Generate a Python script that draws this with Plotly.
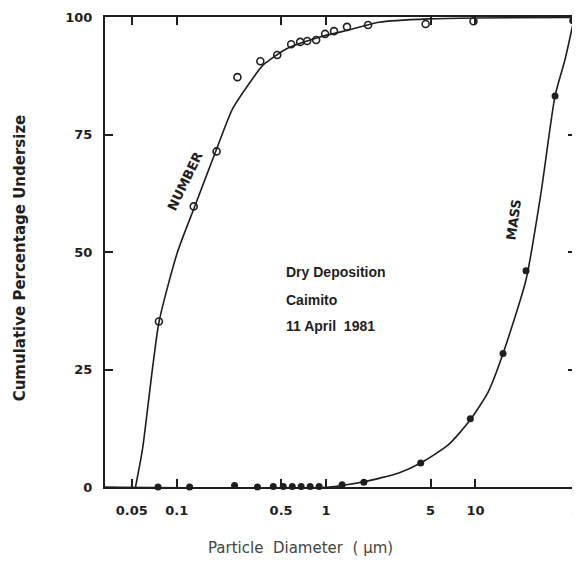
import math
import plotly.graph_objects as go

# ---- data ----
# NUMBER distribution (open circles)
number_d = [0.076, 0.130, 0.185, 0.255, 0.363, 0.471, 0.584, 0.671, 0.747, 0.858,
            0.985, 1.13, 1.38, 1.91, 4.64, 9.7]
number_pct = [35.2, 59.7, 71.4, 87.2, 90.6, 91.9, 94.2, 94.7, 94.9, 95.1,
              96.4, 97.0, 97.9, 98.3, 98.5, 99.1]
# fitted NUMBER curve
number_curve_d = [0.053, 0.059, 0.076, 0.101, 0.132, 0.185, 0.236, 0.321, 0.374,
                  0.541, 0.898, 1.49, 2.26, 4.86, 10.5, 48.0]
number_curve_pct = [0.0, 8.0, 35.0, 49.9, 59.7, 71.9, 80.4, 86.8, 89.6,
                    93.2, 95.7, 97.4, 98.9, 99.6, 99.8, 99.9]

# MASS distribution (filled circles)
mass_d = [0.075, 0.122, 0.244, 0.347, 0.443, 0.517, 0.594, 0.681, 0.782, 0.898,
          1.28, 1.79, 4.30, 9.24, 15.3, 21.8, 34.1, 44.8]
mass_pct = [0, 0, 0.3, 0, 0.1, 0.1, 0.1, 0.1, 0.1, 0.1,
            0.5, 1.0, 5.1, 14.5, 28.4, 46.0, 83.2, 99.2]
# fitted MASS curve
mass_curve_d = [0.033, 1.05, 1.79, 3.07, 4.30, 6.60, 9.24, 12.2, 15.3, 21.8,
                27.5, 34.1, 39.8, 45.7]
mass_curve_pct = [0, 0, 1.1, 3.0, 5.1, 9.0, 14.3, 20.3, 28.4, 44.1,
                  62.7, 83.2, 91.0, 99.6]

x_tickvals = [0.05, 0.1, 0.5, 1, 5, 10]
x_ticktext = ["0.05", "0.1", "0.5", "1", "5", "10"]
y_tickvals = [0, 25, 50, 75, 100]
y_ticktext = ["0", "25", "50", "75", "100"]

INK = "#1e1e1e"
TICKFONT = dict(family="DejaVu Sans", size=13, color=INK, weight="bold")
LBL = dict(family="Liberation Sans, Arial, sans-serif", size=14, color=INK, weight="bold")
CURVE_LBL = dict(family="DejaVu Sans", size=13, color=INK, weight="bold")

fig = go.Figure()
fig.add_trace(go.Scatter(x=number_curve_d, y=number_curve_pct, mode="lines",
                         line=dict(color=INK, width=1.6, shape="spline", smoothing=0.6),
                         hoverinfo="skip", showlegend=False))
fig.add_trace(go.Scatter(x=mass_curve_d, y=mass_curve_pct, mode="lines",
                         line=dict(color=INK, width=1.6, shape="spline", smoothing=0.6),
                         hoverinfo="skip", showlegend=False))
fig.add_trace(go.Scatter(x=number_d, y=number_pct, mode="markers", name="Number",
                         marker=dict(symbol="circle-open", size=7, color=INK,
                                     line=dict(width=1.6, color=INK)),
                         cliponaxis=False, showlegend=False))
fig.add_trace(go.Scatter(x=mass_d, y=mass_pct, mode="markers", name="Mass",
                         marker=dict(symbol="circle", size=7, color=INK),
                         cliponaxis=False, showlegend=False))

fig.update_xaxes(type="log", range=[-1.48, 1.673], tickvals=x_tickvals, ticktext=x_ticktext,
                 ticks="inside", ticklen=8, tickwidth=1.5, tickcolor=INK,
                 showline=True, linecolor=INK, linewidth=2, mirror="ticks",
                 showgrid=False, zeroline=False, tickfont=TICKFONT, ticklabelstandoff=10)
fig.update_yaxes(range=[0, 100], tickvals=y_tickvals, ticktext=y_ticktext,
                 ticks="inside", ticklen=8, tickwidth=1.5, tickcolor=INK,
                 showline=True, linecolor=INK, linewidth=2, mirror="ticks",
                 showgrid=False, zeroline=False, tickfont=TICKFONT, ticklabelstandoff=8)

# annotations on the log axis take log10 positions
annos = [
    dict(text="NUMBER", x=math.log10(0.113), y=65.1, textangle=-64, font=CURVE_LBL),
    dict(text="MASS", x=math.log10(17.9), y=56.8, textangle=-82, font=CURVE_LBL),
    dict(text="Dry Deposition", x=math.log10(0.525), y=45.7, xanchor="left", font=LBL),
    dict(text="Caimito", x=math.log10(0.525), y=39.8, xanchor="left", font=LBL),
    dict(text="11 April  1981", x=math.log10(0.525), y=34.3, xanchor="left", font=LBL),
]
for a in annos:
    a.update(xref="x", yref="y", showarrow=False, yanchor="middle")
    fig.add_annotation(**a)

fig.add_annotation(text="50", xref="paper", yref="paper", x=1.0085, y=-0.049,
                   showarrow=False, font=TICKFONT, xanchor="center", yanchor="middle")
fig.add_annotation(text="Cumulative Percentage Undersize", xref="paper", yref="paper",
                   x=-0.18, y=0.487, textangle=-90, showarrow=False,
                   xanchor="center", yanchor="middle",
                   font=dict(family="DejaVu Sans", size=15, color=INK, weight="bold"))
fig.add_annotation(text="Particle  Diameter  ( μm)", xref="paper", yref="paper",
                   x=0.415, y=-0.13, showarrow=False, xanchor="center", yanchor="middle",
                   font=dict(family="DejaVu Sans", size=15, color="#444"))

# page body has an 8px default margin, so the figure is 8px smaller / shifted
fig.update_layout(width=572, height=556, margin=dict(l=97, r=2, t=9, b=77),
                  plot_bgcolor="white", paper_bgcolor="white", showlegend=False)
fig.write_html("out.html")
